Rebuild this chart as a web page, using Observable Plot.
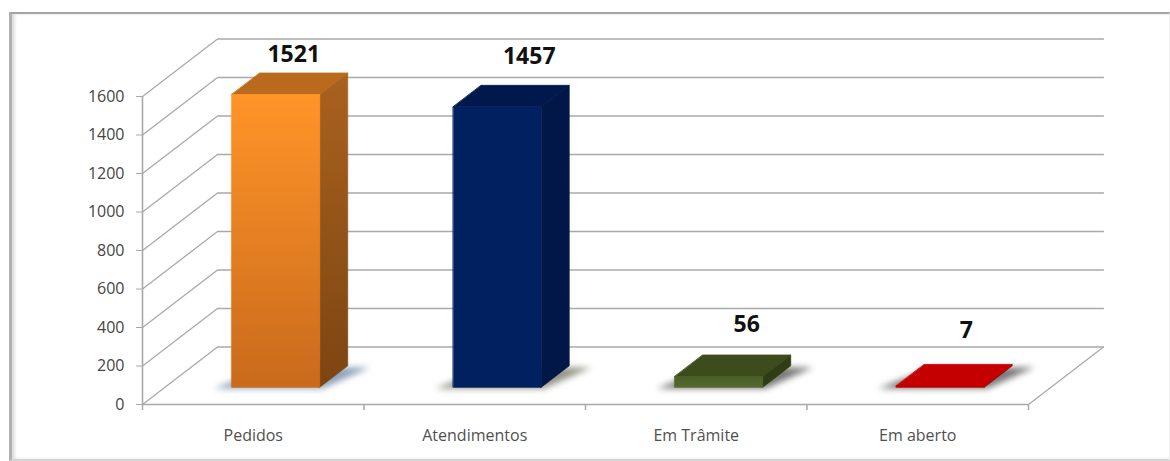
<!DOCTYPE html>
<html><head><meta charset="utf-8">
<script src="https://cdn.jsdelivr.net/npm/d3@7"></script>
<script src="https://cdn.jsdelivr.net/npm/@observablehq/plot@0.6"></script>
<style>
html,body{margin:0;padding:0;background:#fff;overflow:hidden}
#wrap{position:relative;width:1170px;height:461px}
#frame{position:absolute;left:9px;top:12px;width:1161px;height:449px;border-top:2px solid #a4a4a4;border-left:3px solid #b0b0b0;border-bottom:2px solid #d4d4d4;border-right:1px solid #f0f0f0;box-shadow:inset 3px 0 3px #e0e0e0;box-sizing:border-box}
#chart{position:absolute;left:0;top:0}
svg{background:transparent !important}
</style></head><body>
<div id="wrap"><div id="frame"></div><div id="chart"></div></div>
<script>
const categories = ["Pedidos","Atendimentos","Em Trâmite","Em aberto"];
const values = [1521,1457,56,7];
const valueLabels = ["1521","1457","56","7"];
const yTicks = [0,200,400,600,800,1000,1200,1400,1600];
const xBoundaries = [0,1,2,3,4];

// appearance, per bar
const palette = [
  {front:["#ff9428","#c96a1c"],side:["#a9621f","#7c4512"],top:"#b96a1c",shadow:"#8ea3b8"},
  {front:["#00205f","#00205f"],side:["#001747","#001747"],top:"#00184c",shadow:"#949488"},
  {front:["#4a5f27","#55692f"],side:["#2f3d14","#2f3d14"],top:"#3c4c1c",shadow:"#787878"},
  {front:["#c00000","#c00000"],side:["#a00000","#a00000"],top:"#c40000",shadow:"#787878"}
];
const labelNudge = [[18,-40],[32,-50],[28,-52],[26,-55]];

// oblique projection of (category, value, depth)
const depthX = 75/221.5, depthY = 57.5/(308/1600);
const P = (c,v,d) => ({x:c+d*depthX, y:v+d*depthY});
const barW = 0.397, d0 = 0.3, d1 = 0.673;

const defs = () => {
  const s = d3.create("svg:defs");
  palette.forEach((p,i)=>{
    for (const k of ["front","side"]) {
      const g = s.append("linearGradient").attr("id",k+i).attr("x1",0).attr("y1",0).attr("x2",0).attr("y2",1);
      g.append("stop").attr("offset","0").attr("stop-color",p[k][0]);
      g.append("stop").attr("offset","1").attr("stop-color",p[k][1]);
    }
  });
  return s.node();
};
const poly = (pts,fill,extra={}) => Plot.line(pts,{x:"x",y:"y",fill,stroke:fill,strokeWidth:0.8,strokeLinejoin:"round",curve:"linear-closed",...extra});

const marks = [defs];

// floor/wall lines
const grid = "#a9a9a9";
for (const t of yTicks) {
  marks.push(Plot.line([P(0,t,0),P(0,t,1),P(4,t,1)],{x:"x",y:"y",stroke:grid,strokeWidth:1.3}));
}
marks.push(Plot.line([P(4,0,0),P(4,0,1)],{x:"x",y:"y",stroke:grid,strokeWidth:1.3}));
marks.push(Plot.ruleX([0],{y1:0,y2:1600,stroke:grid,strokeWidth:1.6}));
marks.push(Plot.ruleY([0],{x1:0,x2:4,stroke:grid,strokeWidth:1.6}));

// bars
values.forEach((v,i)=>{
  const l = i+0.5-barW/2, r = i+0.5+barW/2;
  marks.push(poly([P(l-0.075,0,d0-0.02),P(r+0.02,0,d0-0.02),P(r+0.11,0,d1-0.03),P(l+0.05,0,d1-0.03)],palette[i].shadow,{stroke:"none",imageFilter:"blur(3px)"}));
  marks.push(poly([P(r,0,d0),P(r,0,d1),P(r,v,d1),P(r,v,d0)],`url(#side${i})`));
  marks.push(poly([P(l,v,d0),P(r,v,d0),P(r,v,d1),P(l,v,d1)],palette[i].top));
  marks.push(poly([P(l,0,d0),P(r,0,d0),P(r,v,d0),P(l,v,d0)],`url(#front${i})`));
  marks.push(Plot.text([valueLabels[i]],{
    x:()=>P(i+0.5,v,d0).x, y:()=>P(i+0.5,v,d0).y,
    dx:labelNudge[i][0], dy:labelNudge[i][1],
    fontSize:23, fontWeight:700, fill:"#111", fontFamily:"Open Sans"
  }));
});

// axes
marks.push(Plot.axisY({ticks:yTicks,tickSize:6,tickPadding:12,label:null,stroke:grid,fill:"#454545",fontSize:16,fontFamily:"Open Sans",tickFormat:d=>String(d)}));
marks.push(Plot.axisX({ticks:xBoundaries,tickSize:6,label:null,stroke:grid,strokeWidth:1.5,tickFormat:()=>""}));
marks.push(Plot.axisX({ticks:categories.map((_,i)=>i+0.5),tickSize:0,tickPadding:25,label:null,fill:"#505050",fontSize:16,fontFamily:"Open Sans",tickFormat:d=>categories[d-0.5]}));

const chart = Plot.plot({
  width:1170,height:461,
  marginLeft:142,marginRight:67,marginTop:38.5,marginBottom:57,
  x:{domain:[0,4+depthX]},
  y:{domain:[0,1600+depthY]},
  style:{background:"transparent"},
  marks
});
document.getElementById("chart").append(chart);
</script></body></html>
